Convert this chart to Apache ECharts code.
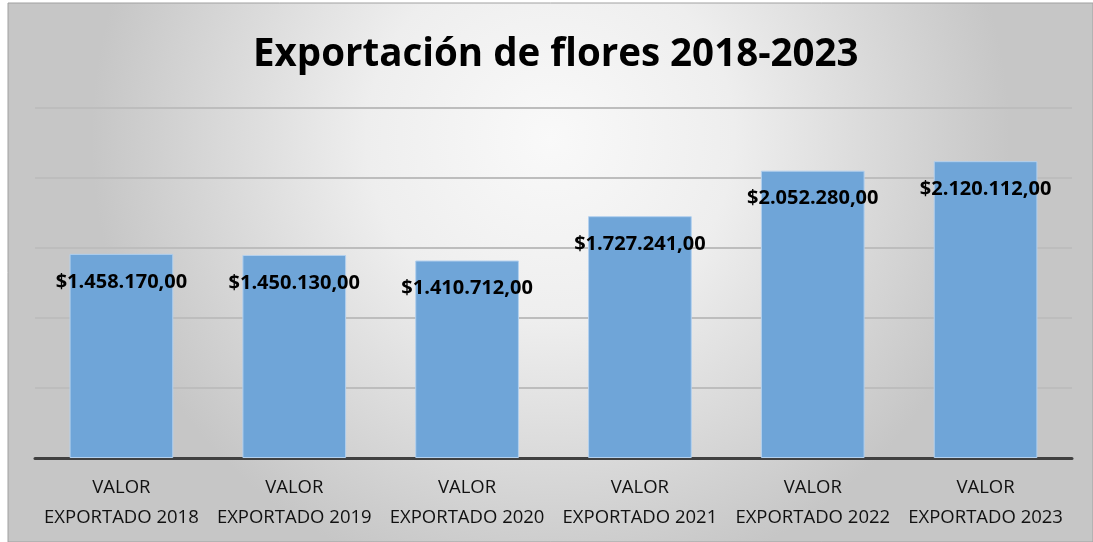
<!DOCTYPE html>
<html><head><meta charset="utf-8">
<script src="https://cdn.jsdelivr.net/npm/echarts@6/dist/echarts.min.js"></script>
<style>html,body{margin:0;padding:0;background:#fff}#c{width:1093px;height:542px}</style>
</head><body><div id="c"></div>
<script>
const titleText = 'Exportación de flores 2018-2023';
const categories = ['VALOR\nEXPORTADO 2018','VALOR\nEXPORTADO 2019','VALOR\nEXPORTADO 2020','VALOR\nEXPORTADO 2021','VALOR\nEXPORTADO 2022','VALOR\nEXPORTADO 2023'];
const values = [1458170, 1450130, 1410712, 1727241, 2052280, 2120112];
const yMax = 2500000;
const yInterval = 500000;

function fmt(v){
  const s = Math.round(v).toString().replace(/\B(?=(\d{3})+(?!\d))/g,'.');
  return '$' + s + ',00';
}
const chart = echarts.init(document.getElementById('c'), null, {renderer:'canvas'});
chart.setOption({
  animation:false,
  graphic:[{
    type:'rect', z:-10, silent:true,
    shape:{x:8,y:3,width:1085,height:539},
    style:{
      fill:new echarts.graphic.RadialGradient(0.5,0.25,0.85,[
        {offset:0,color:'#f9f9f9'},{offset:0.4,color:'#eeeeee'},{offset:1,color:'#c6c6c6'}
      ]),
      stroke:'#a0a0a0', lineWidth:1
    }
  }],
  title:{
    text:titleText, left:248, top:31,
    textStyle:{fontFamily:'Open Sans', fontWeight:'bold', fontSize:38.5, color:'#000'}
  },
  grid:{left:35,right:21,top:108,bottom:84,containLabel:false},
  xAxis:{
    type:'category', data:categories,
    axisLine:{lineStyle:{color:'#404040',width:3}},
    axisTick:{show:false},
    axisLabel:{interval:0, margin:15, fontFamily:'Open Sans', fontSize:18.5, lineHeight:30, color:'#111'}
  },
  yAxis:{
    type:'value', min:0, max:yMax, interval:yInterval,
    axisLabel:{show:false}, axisLine:{show:false}, axisTick:{show:false},
    splitLine:{lineStyle:{color:'#bdbdbd',width:2}}
  },
  series:[{
    type:'bar', data:values, barWidth:'60%',
    itemStyle:{color:'#6fa5d8', borderColor:'#b3d0ee', borderWidth:1},
    label:{show:true, position:'insideTop', distance:18, formatter:p=>fmt(p.value),
      fontFamily:'Open Sans', fontWeight:'bold', fontSize:20, color:'#000'}
  }]
});
</script></body></html>
